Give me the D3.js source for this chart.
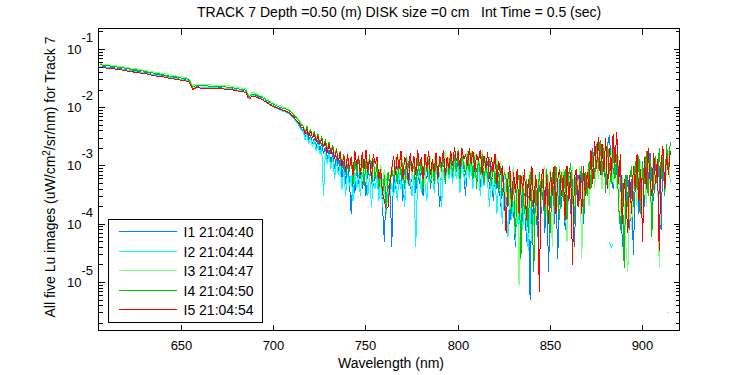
<!DOCTYPE html>
<html><head><meta charset="utf-8">
<script src="https://cdn.jsdelivr.net/npm/d3@7/dist/d3.min.js"></script>
<style>
body{margin:0;background:#fff;}
text{font-family:Arial,"Liberation Sans",Helvetica,sans-serif;fill:#000;}
</style></head>
<body><svg id="chart" width="750" height="375"></svg>
<script>
// ---- data ----
const wlStart = 606;      // first wavelength (nm)
const wlStep = 1;         // sampling step (nm)
const valueUnit = 1e-3;   // series values are in units of 1e-3 uW/cm^2/sr/nm

const seriesLabels = ["I1 21:04:40","I2 21:04:44","I3 21:04:47","I4 21:04:50","I5 21:04:54"];
const seriesColors = ["#0080ff","#00ffff","#80ff80","#00c800","#ff0000"];

const xTickValues = [650,700,750,800,850,900];
const yTickExponents = [-1,-2,-3,-4,-5];

const titleText = "TRACK 7 Depth =0.50 (m) DISK size =0 cm   Int Time = 0.5 (sec)";
const xLabelText = "Wavelength (nm)";

const I1 = [
52,51,51,50,50,49,49,49,48,47,
47,47,46,46,45,44,44,44,43,43,
42,42,41,41,40,40,39,38.5,37.5,37.5,
36.5,36.5,36.5,35.5,35.5,34.5,34.5,33.5,33.5,33,
32.5,32.5,31.5,31,30.5,30,30,29.5,28.5,25.5,
21,22,22.8,22.8,22.6,22.6,22.5,22.5,22.4,22.3,
22.3,22.2,22.1,22.1,22,21.9,21.8,21.8,21.6,21.4,
21.3,21.2,21,20.6,20.2,20,19.7,19.5,19.3,19,
15.6,14.9,16.2,16.4,16,15.6,15.2,14.6,14,13.4,
12.8,12.3,11.6,11.1,10.7,10.4,10,9.6,9.5,9.1,
9.0,8.6,8.4,7.8,7.2,6.8,6.0,5.7,5.0,4.4,
4.2,3.1,3.8,2.7,3.4,2.4,3.0,2.0,2.8,1.8,
2.5,1.6,2.1,1.3,1.9,1.1,1.7,0.9,1.5,0.8,
1.3,0.6,1.2,0.5,1.1,0.6,0.15,0.8,0.35,1.0,
0.5,1.1,0.4,0.9,0.3,1.0,0.6,1.2,0.45,0.8,
0.9,0.3,0.8,0.2,0.05,0.6,0.3,0.7,0.04,0.8,
0.4,1.0,0.5,1.1,0.25,0.9,0.6,1.2,0.4,0.8,
1.0,0.35,0.9,0.5,1.2,0.3,0.8,0.6,1.1,0.4,
0.9,0.5,1.1,0.6,0.2,0.9,1.3,0.5,1.0,0.7,
1.3,0.6,1.5,0.8,1.2,0.5,1.6,0.9,0.3,1.3,
0.7,1.4,0.5,1.2,0.8,1.3,0.4,1.1,0.6,0.9,
1.2,0.4,1.0,0.25,0.9,0.4,0.8,0.2,0.7,0.3,
0.15,0.6,0.1,0.5,0.2,0.04,0.4,0.12,0.5,0.08,
0.35,0.05,0.3,0.005,0.5,0.1,0.4,0.06,0.6,0.15,
0.5,0.07,0.6,0.015,0.35,0.7,0.1,0.5,0.025,0.6,
0.2,0.7,0.08,0.5,0.8,0.15,0.6,0.04,0.4,0.7,
0.25,0.8,0.1,0.6,0.3,1.0,0.5,2.0,0.6,2.4,
0.9,2.4,0.5,1.7,0.35,2.3,3.4,1.0,0.4,2.1,
0.7,1.4,0.9,0.04,null,0.25,0.7,0.08,0.6,0.03,
0.5,1.0,0.15,0.7,1.2,0.2,0.9,0.4,1.7,0.6,
0.25,1.3,0.5,1.0,0.08,1.4,0.4,2.3,0.7,1.8
];

const I2 = [
51,50,50,49,49,48,48,48,47,46,
46,46,45,45,44,43,43,43,42,42,
41,41,40,40,39,39,38,38,37,37,
36,36,36,35,35,34,34,33,33,32.5,
32,32,31,31,30.5,30,29.8,29.3,28.2,25,
21,22,22.6,22.6,22.4,22.4,22.3,22.3,22.2,22.1,
22.1,22,21.9,21.9,21.8,21.7,21.6,21.6,21.4,21.2,
21.1,21,20.8,20.4,20,19.8,19.5,19.3,19.1,18.8,
15.3,14.6,16,16.2,15.8,15.3,14.9,14.4,13.8,13.1,
12.5,12,11.4,10.9,10.4,10.1,9.6,9.2,9.0,8.7,
8.6,8.2,8.0,7.4,6.9,6.4,5.7,5.3,4.7,4.1,
3.9,2.8,3.5,2.4,3.1,2.1,2.8,1.8,2.4,1.6,
2.1,0.3,1.8,1.1,1.6,0.9,1.4,0.6,1.2,0.7,
1.0,0.4,0.9,0.3,0.8,0.45,0.7,0.25,0.8,0.4,
0.7,0.3,0.8,0.5,0.9,0.3,0.7,0.2,0.6,0.4,
0.7,0.25,0.6,0.2,0.5,0.15,0.4,0.3,0.5,0.3,
0.6,0.25,0.8,0.4,0.7,0.2,0.9,0.45,0.6,0.3,
0.7,0.04,0.6,0.9,0.35,1.0,0.5,0.25,0.8,0.45,
0.9,0.35,1.0,0.5,0.8,0.2,0.9,0.5,1.0,0.6,
1.1,0.5,1.2,0.6,1.0,0.35,1.3,0.7,0.5,1.1,
0.6,1.1,0.4,0.9,0.6,1.2,0.3,0.8,0.45,1.0,
0.5,0.2,0.8,0.35,0.7,0.15,0.6,0.3,0.1,0.5,
0.2,0.06,0.4,0.12,0.25,0.05,0.3,0.1,0.2,0.08,
0.3,0.1,0.035,0.2,0.05,0.15,null,null,null,null,
null,null,null,null,null,null,null,null,null,null,
null,null,null,null,null,null,null,null,null,null,
null,null,null,null,null,null,null,null,null,null,
null,null,null,null,null,null,0.05,0.04,0.045,null,
null,null,null,null,null,null,null,null,null,null,
null,null,null,null,null,null,null,null,null,null,
null,null,null,null,null,null,null,0.003,0.003,null
];

const I3 = [
57,56,56,55,55,54,54,53,53,52,
52,51,51,50,49,49,48,48,47,47,
46,46,45,44,44,43,43,42,42,41,
41,40,40,39,39,38,38,37,37,36,
36,35,35,34,34,33.5,33,32.5,31.5,28,
24,25,25.3,25.3,25.1,25.1,25,25,24.9,24.8,
24.7,24.6,24.5,24.5,24.4,24.3,24.2,24.1,23.9,23.7,
23.6,23.5,23.3,23,22.6,22.2,21.9,21.7,21.4,21.1,
17.4,16.6,18,18.2,17.7,17.2,16.8,16.3,15.7,15,
14.3,13.7,13,12.5,12,11.6,11.3,10.8,10.7,10.3,
10.2,9.9,9.5,9.1,8.4,7.8,7.1,6.6,6.0,5.3,
4.9,4.0,4.7,3.6,4.3,3.3,3.9,3.0,3.6,2.7,
3.2,2.3,2.8,2.0,2.6,1.8,2.3,1.5,2.0,1.4,
1.8,1.1,1.6,1.0,1.7,0.8,1.5,0.9,1.3,0.7,
1.6,0.9,1.4,0.6,1.8,1.0,1.5,0.7,1.3,0.8,
1.2,0.6,1.1,0.5,0.9,0.45,0.8,0.6,1.0,0.7,
1.4,0.6,1.5,0.9,1.3,0.5,1.6,0.8,1.2,0.6,
1.5,0.8,1.7,0.6,1.3,0.9,0.5,1.6,0.8,1.4,
0.7,1.3,1.7,0.8,1.5,0.6,1.2,1.8,0.9,1.4,
1.7,0.9,2.0,1.1,1.8,0.8,2.1,1.2,1.0,1.9,
1.1,1.8,0.8,1.7,1.0,1.5,0.7,1.9,0.9,1.4,
0.8,1.5,0.5,1.3,0.6,1.4,0.4,1.2,0.3,0.9,
0.3,0.8,0.2,0.6,1.0,0.15,0.7,0.009,0.3,0.8,
0.2,0.6,0.12,0.9,0.25,0.7,0.1,0.5,0.8,0.2,
0.7,1.0,0.15,0.6,0.9,0.04,0.3,0.8,0.2,1.0,
0.4,0.9,0.2,0.05,0.7,0.3,1.0,0.15,0.8,0.35,
1.0,0.025,0.7,0.3,0.9,0.2,0.8,1.2,0.4,1.5,
0.6,1.8,0.4,2.3,0.7,1.4,0.3,2.0,0.5,1.1,
0.4,1.5,0.15,0.7,0.2,0.04,0.015,0.4,0.08,0.6,
0.9,0.2,0.7,1.2,0.3,1.0,0.2,1.4,0.5,0.15,
0.9,0.4,1.3,0.018,0.8,1.6,0.3,1.0,1.9,0.5
];

const I4 = [
55,54,54,53,53,52,52,51,51,50,
50,49,49,48,47,47,46,46,45,45,
44,44,43,43,42,42,41,40,40,39,
39,38,38,37,37,36,36,35,35,34.5,
34,34,33,33,32,32,31.5,31,30,26.5,
22.5,23.5,24,24,23.8,23.8,23.7,23.7,23.6,23.5,
23.5,23.4,23.2,23.2,23.1,23,22.9,22.9,22.7,22.5,
22.4,22.2,22,21.7,21.3,21,20.7,20.5,20.3,20,
16.4,15.6,17,17.2,16.8,16.4,15.9,15.5,14.8,14.2,
13.5,13,12.3,11.8,11.3,11,10.7,10.2,10.1,9.8,
9.7,9.4,9.0,8.6,8.0,7.4,6.8,6.3,5.7,5.0,
4.8,3.6,4.9,3.3,4.3,3.0,4.0,2.7,3.5,2.3,
3.2,2.1,2.9,1.8,2.6,1.6,2.3,1.3,2.0,1.1,
1.8,0.9,1.6,0.7,1.5,0.8,1.4,0.5,1.3,0.7,
1.3,0.6,1.5,0.45,1.2,0.7,1.6,0.5,1.3,0.6,
1.1,0.4,0.9,0.3,0.7,0.2,0.8,0.4,0.9,0.6,
1.0,0.5,1.3,0.7,1.1,0.4,1.4,0.6,1.2,0.8,
1.0,0.5,1.4,0.7,1.2,0.4,1.5,0.8,1.3,0.45,
1.2,0.5,1.5,0.6,1.3,0.8,1.6,0.5,1.4,0.7,
1.5,0.7,1.6,0.8,1.9,0.6,1.5,1.1,0.7,1.6,
0.8,1.7,0.6,1.5,0.4,1.4,0.7,1.6,0.5,1.2,
0.6,1.3,0.45,1.2,0.5,1.1,0.35,1.0,0.3,0.8,
0.6,0.2,0.8,0.15,0.6,0.06,0.5,0.7,0.025,0.5,
0.15,0.6,0.07,0.8,0.2,0.015,0.5,0.15,0.8,0.3,
0.6,0.12,0.9,0.3,0.07,0.8,0.2,1.0,0.35,0.12,
0.8,0.25,0.9,0.12,0.7,1.1,0.3,0.1,0.8,0.2,
0.6,1.0,0.15,0.8,0.3,1.2,0.4,1.8,0.6,2.3,
1.0,2.8,0.7,2.0,0.4,2.5,0.9,0.5,2.1,0.6,
1.6,0.2,0.08,0.5,0.018,0.7,0.2,0.6,1.0,0.2,
1.2,0.4,1.5,0.15,1.1,0.5,1.8,0.3,1.3,0.06,
1.1,1.5,0.4,2.0,0.6,1.4,0.3,2.4,0.8,2.6
];

const I5 = [
50,49,49,48,48,47,47,47,46,45,
45,45,44,44,43,42,42,42,41,41,
40,40,39,39,38,38,37,37,36,36,
35,35,35,34,34,33,33,32,32,31.5,
31,31,30,30,29.5,29,29,28.5,27.5,24.5,
20.5,21.5,22,22,21.8,21.8,21.7,21.7,21.6,21.5,
21.5,21.4,21.3,21.3,21.2,21.1,21,21,20.8,20.6,
20.5,20.4,20.2,19.9,19.5,19.3,19,18.8,18.6,18.3,
15,14.3,15.6,15.8,15.4,15,14.6,14.2,13.6,13,
12.4,11.9,11.3,10.8,10.4,10.1,9.8,9.4,9.3,9.0,
8.9,8.6,8.3,7.9,7.3,6.8,6.2,5.8,5.2,4.6,
4.6,3.6,4.3,3.2,4.0,3.0,3.6,2.6,3.3,2.4,
2.9,2.1,2.6,1.7,2.4,1.6,2.1,1.3,1.9,1.2,
1.7,1.0,1.5,0.8,1.6,0.9,1.4,0.7,1.8,1.0,
1.5,0.7,1.7,0.9,1.9,0.8,1.3,0.6,1.6,1.1,
1.4,0.6,0.9,0.35,0.25,0.18,0.2,0.5,0.9,1.5,
0.7,1.6,0.9,1.8,0.6,1.4,1.1,0.5,1.7,0.8,
1.5,0.7,1.9,1.0,1.4,0.6,1.6,0.9,1.8,0.7,
1.3,0.8,1.7,0.6,1.5,1.0,1.9,0.7,1.4,0.9,
1.8,1.0,2.1,1.2,1.7,0.9,2.0,1.3,1.6,1.0,
2.0,1.1,1.8,0.8,1.6,1.2,1.9,0.7,1.5,0.9,
1.7,0.6,1.4,0.8,1.6,0.5,1.2,0.7,1.0,0.3,
0.07,0.6,1.0,0.2,0.8,0.35,0.9,0.15,0.7,0.4,
0.9,0.12,0.6,0.25,1.0,0.2,0.7,0.35,0.007,0.6,
0.9,0.2,0.7,0.1,0.8,0.3,1.0,0.15,0.6,0.9,
0.3,0.7,0.12,1.0,0.25,0.8,0.02,0.6,0.9,0.2,
0.7,0.15,1.0,0.3,0.8,0.4,1.9,0.5,2.7,0.9,
3.2,0.7,2.4,0.8,3.0,0.4,2.0,0.7,3.5,1.1,
3.8,0.5,1.6,0.1,0.6,0.25,0.07,0.7,0.15,1.0,
0.4,1.6,0.25,0.9,0.05,1.4,0.4,2.0,0.6,0.3,
1.7,0.5,1.3,0.035,1.0,2.2,0.4,1.6,0.7,1.8
];

const seriesData = [I1, I2, I3, I4, I5];

// ---- layout ----
const svg = d3.select("#chart");
const L = 98.5, R = 679.5, T = 28.5, B = 330.5;

const x = d3.scaleLinear().domain([605, 920]).range([L, R]);
const y = d3.scaleLog().domain([1.5e-6, 0.229]).range([B, T]);

svg.append("defs").append("clipPath").attr("id","plotclip")
  .append("rect").attr("x", L).attr("y", T).attr("width", R - L).attr("height", B - T);

// data lines
const line = d3.line()
  .defined(d => d != null && d > 0)
  .x((d, i) => x(wlStart + i * wlStep))
  .y(d => y(d * valueUnit));

const gLines = svg.append("g").attr("clip-path", "url(#plotclip)");
seriesData.forEach((s, k) => {
  gLines.append("path")
    .attr("d", line(s))
    .attr("fill", "none")
    .attr("stroke", seriesColors[k])
    .attr("stroke-width", 1)
    .attr("stroke-linejoin", "bevel")
    .attr("shape-rendering", "crispEdges");
});

// axes box
svg.append("rect").attr("x", L).attr("y", T).attr("width", R - L).attr("height", B - T)
  .attr("fill", "none").attr("stroke", "#000").attr("stroke-width", 1).attr("shape-rendering","crispEdges");

const gt = svg.append("g").attr("stroke", "#000").attr("stroke-width", 1).attr("shape-rendering","crispEdges");
// x ticks (bottom and top, inward)
xTickValues.forEach(v => {
  const px = Math.round(x(v) - 0.5) + 0.5;
  gt.append("line").attr("x1", px).attr("x2", px).attr("y1", B).attr("y2", B - 6);
  gt.append("line").attr("x1", px).attr("x2", px).attr("y1", T).attr("y2", T + 6);
  svg.append("text").attr("x", px).attr("y", B + 19).attr("text-anchor", "middle")
    .attr("font-size", 13).text(v);
});

// y ticks (log scale: majors at decades, minors 2..9)
y.ticks().forEach(v => {
  const py = Math.round(y(v) - 0.5) + 0.5;
  if (py < T - 0.1 || py > B + 0.1) return;
  const e = Math.log10(v);
  const major = Math.abs(e - Math.round(e)) < 1e-9;
  const len = major ? 6 : 4;
  gt.append("line").attr("x1", L).attr("x2", L + len).attr("y1", py).attr("y2", py);
  gt.append("line").attr("x1", R).attr("x2", R - len).attr("y1", py).attr("y2", py);
});
yTickExponents.forEach(e => {
  const py = y(Math.pow(10, e));
  const t = svg.append("text").attr("x", 67).attr("y", py + 4.5).attr("font-size", 13);
  t.append("tspan").text("10");
  t.append("tspan").attr("dy", -12).text(String(e));
});

// title
svg.append("text").attr("x", 197).attr("y", 16.5).attr("font-size", 14)
  .style("white-space", "pre").attr("xml:space","preserve").text(titleText);

// x label
svg.append("text").attr("x", 391).attr("y", 368).attr("text-anchor", "middle")
  .attr("font-size", 14).text(xLabelText);

// y label
const yl = svg.append("text").attr("transform", "translate(55,177) rotate(-90)")
  .attr("text-anchor", "middle").attr("font-size", 14);
yl.append("tspan").text("All five Lu images (uW/cm");
yl.append("tspan").attr("dy", -5).attr("font-size", 10).text("2");
yl.append("tspan").attr("dy", 5).text("/sr/nm) for Track 7");

// legend
const lg = svg.append("g");
lg.append("rect").attr("x", 108.5).attr("y", 219.5).attr("width", 154).attr("height", 103)
  .attr("fill", "#fff").attr("stroke", "#000").attr("shape-rendering","crispEdges");
const rowY = d3.scalePoint().domain(seriesLabels).range([231.5, 309.5]);
seriesLabels.forEach((lab, k) => {
  const ry = Math.round(rowY(lab) - 0.5) + 0.5;
  lg.append("line").attr("x1", 119).attr("x2", 177).attr("y1", ry).attr("y2", ry)
    .attr("stroke", seriesColors[k]).attr("stroke-width", 1);
  lg.append("text").attr("x", 183.5).attr("y", ry + 5).attr("font-size", 14).text(lab);
});
</script>
</body></html>
